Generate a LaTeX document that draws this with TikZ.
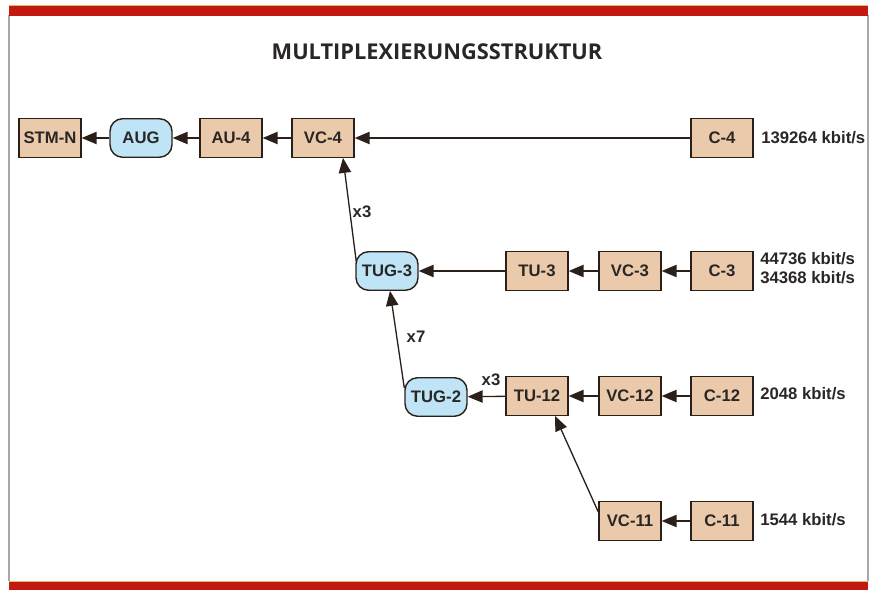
\documentclass[tikz,border=0pt]{standalone}
\usepackage{fontspec}
\setmainfont{Liberation Sans}
\newfontfamily\titlefont{Open Sans}
\definecolor{FrameRed}{HTML}{C21A10}
\definecolor{FrameGold}{HTML}{E8B466}
\definecolor{FrameGray}{HTML}{A8A8A8}
\definecolor{BoxTan}{HTML}{EACAAA}
\definecolor{BoxBlue}{HTML}{BEE4F6}
\definecolor{EdgeDark}{HTML}{2B2019}
\definecolor{TextDark}{HTML}{2A2626}
\usetikzlibrary{arrows.meta, calc}
\tikzset{
  % Box styles
  unitbox/.style={rectangle, draw=EdgeDark, fill=BoxTan, line width=0.8pt, minimum width=1.24cm, minimum height=0.77cm, inner sep=0pt, font=\fontsize{9.5}{11}\selectfont\bfseries, text=TextDark},
  groupbox/.style={unitbox, fill=BoxBlue, rounded corners=0.25cm},
  % Arrow styles
  arrow/.style={-{Triangle[length=8.5pt, width=7pt]}, line width=0.75pt, EdgeDark},
  % Label styles
  ratelabel/.style={anchor=west, inner sep=0pt, font=\fontsize{9.5}{11}\selectfont\bfseries, text=TextDark, align=left},
  countlabel/.style={inner sep=0pt, font=\fontsize{9.5}{11}\selectfont\bfseries, text=TextDark}
}
\begin{document}
\begin{tikzpicture}[x=0.02cm, y=-0.02cm]
  \useasboundingbox (0,0) rectangle (874,590);

  % Frame
  \fill[white] (0,0) rectangle (874,590);
  \draw[FrameGray, line width=0.6pt] (9,15) -- (9,581);
  \draw[FrameGray, line width=0.6pt] (868,15) -- (868,581);
  \fill[FrameRed] (9,5) rectangle (868,16);
  \fill[FrameRed] (9,581) rectangle (868,590);
  \draw[FrameGold, line width=0.5pt] (9,5) -- (868,5);
  \draw[FrameGold, line width=0.5pt] (9,581) -- (868,581);

  % Title
  \node[font=\titlefont\fontsize{12.4}{14}\selectfont\bfseries, text=TextDark] (title) at (437,52) {MULTIPLEXIERUNGSSTRUKTUR};

  % Row 1
  \node[unitbox] (stm) at (50,138) {STM-N};
  \node[groupbox] (aug) at (141,138) {AUG};
  \node[unitbox] (au4) at (231,138) {AU-4};
  \node[unitbox] (vc4) at (323,138) {VC-4};
  \node[unitbox] (c4) at (722,138) {C-4};
  \node[ratelabel] (r4) at (761,138) {139264 kbit/s};

  % Row 2
  \node[groupbox] (tug3) at (387,271) {TUG-3};
  \node[unitbox] (tu3) at (537,271) {TU-3};
  \node[unitbox] (vc3) at (630,271) {VC-3};
  \node[unitbox] (c3) at (722,271) {C-3};
  \node[ratelabel] (r3) at (760,268) {44736 kbit/s\\34368 kbit/s};

  % Row 3
  \node[groupbox] (tug2) at (436,397) {TUG-2};
  \node[unitbox] (tu12) at (537,396) {TU-12};
  \node[unitbox] (vc12) at (630,396) {VC-12};
  \node[unitbox] (c12) at (722,396) {C-12};
  \node[ratelabel] (r12) at (760,394) {2048 kbit/s};

  % Row 4
  \node[unitbox] (vc11) at (630,521) {VC-11};
  \node[unitbox] (c11) at (722,521) {C-11};
  \node[ratelabel] (r11) at (760,520) {1544 kbit/s};

  % Multiplex factors
  \node[countlabel] (n1) at (362,212) {x3};
  \node[countlabel] (n2) at (416,337) {x7};
  \node[countlabel] (n3) at (491,380) {x3};

  % Connectors
  \draw[arrow] (c4) -- (vc4);
  \draw[arrow] (vc4) -- (au4);
  \draw[arrow] (au4) -- (aug);
  \draw[arrow] (aug) -- (stm);
  \draw[arrow] (c3) -- (vc3);
  \draw[arrow] (vc3) -- (tu3);
  \draw[arrow] (tu3) -- (tug3);
  \draw[arrow] (c12) -- (vc12);
  \draw[arrow] (vc12) -- (tu12);
  \draw[arrow] (tu12) -- (tug2);
  \draw[arrow] (c11) -- (vc11);
  \draw[arrow] ($(tug3.west)+(1,-9)$) -- ($(vc4.south)+(20,0)$);
  \draw[arrow] ($(tug2.west)+(0,-9)$) -- ($(tug3.south)+(3,0)$);
  \draw[arrow] ($(vc11.west)+(0,-9)$) -- ($(tu12.south)+(18,0)$);
\end{tikzpicture}
\end{document}
